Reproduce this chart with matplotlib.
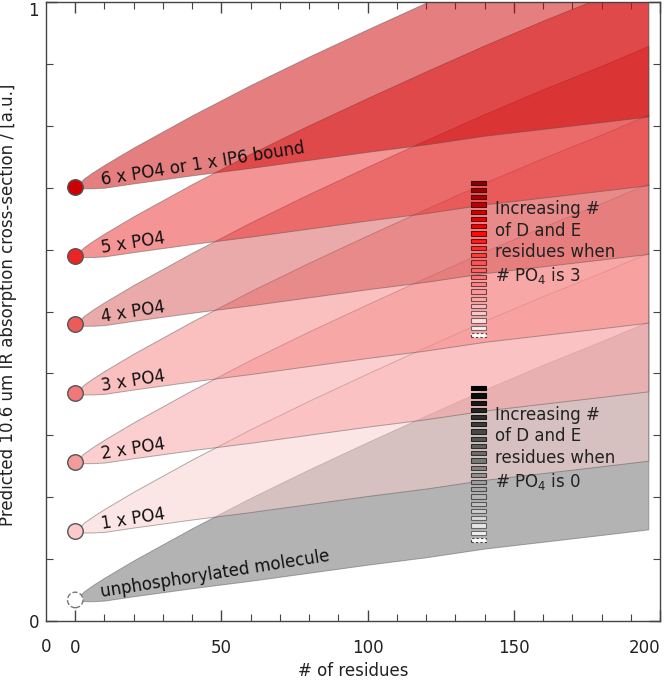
import numpy as np
import matplotlib.pyplot as plt
from matplotlib.colors import LinearSegmentedColormap, to_rgb

# rise of every band above its starting level
residues = [0, 3, 6, 10, 20, 40, 60, 80, 100, 120, 140, 160, 180, 196]
lower_rise = [0, -0.002, -0.002, -0.001, 0.006, 0.019, 0.031, 0.044,
              0.057, 0.069, 0.083, 0.094, 0.105, 0.114]
upper_rise = [0, 0.014, 0.024, 0.036, 0.064, 0.116, 0.165, 0.211,
              0.255, 0.298, 0.340, 0.380, 0.418, 0.450]

# one band per phosphorylation state
band_labels = ["unphosphorylated molecule", "1 x PO4", "2 x PO4", "3 x PO4",
               "4 x PO4", "5 x PO4", "6 x PO4 or 1 x IP6 bound"]
start_level = [0.034, 0.145, 0.257, 0.368, 0.479, 0.590, 0.701]
band_colors = ["#696969", "#fbcdcd", "#f9a1a1", "#f78181",
               "#d85656", "#eb2b2b", "#cc0000"]
marker_colors = ["#ffffff", "#fccaca", "#f39a9a", "#f07878",
                 "#ec5a5a", "#ee2424", "#cc0000"]

# "Increasing # of D and E" strips
n_de = 22
strip_x = 138
strip_top = [0.708, 0.376]
strip_bottom = [0.462, 0.131]
strip_text = ["Increasing #\nof D and E\nresidues when\n# PO$_4$ is 3",
              "Increasing #\nof D and E\nresidues when\n# PO$_4$ is 0"]
strip_cmaps = [
    LinearSegmentedColormap.from_list("reds", [(0, "#8c0000"), (0.3, "#ff0000"), (1, "#ffffff")]),
    LinearSegmentedColormap.from_list("greys", ["#000000", "#ffffff"]),
]

fig = plt.figure(figsize=(6.66, 6.83), dpi=100)
ax = fig.add_axes([46 / 666, 1 - 621 / 683, 614 / 666, 619 / 683])

x = np.array(residues)
lo = np.array(lower_rise)
hi = np.array(upper_rise)
for lvl, col in zip(start_level, band_colors):
    r, g, b = to_rgb(col)
    ax.fill_between(x, lvl + lo, lvl + hi, facecolor=(r, g, b, 0.5),
                    edgecolor=(0.3, 0.3, 0.3, 0.45), linewidth=0.7, zorder=2)

for i, (lvl, col, lab) in enumerate(zip(start_level, marker_colors, band_labels)):
    if i == 0:
        ax.scatter([0], [lvl], s=125, facecolors="white", edgecolors="#777777",
                   linewidths=1.0, linestyles="--", zorder=5, clip_on=False)
    else:
        ax.scatter([0], [lvl], s=125, facecolors=col, edgecolors="#555555",
                   linewidths=1.0, zorder=5, clip_on=False)
    ax.text(9, lvl + 0.004, lab, rotation=9, rotation_mode="anchor",
            ha="left", va="baseline", fontsize=12, color="#111111", zorder=6)

for k in range(2):
    ys = np.linspace(strip_top[k], strip_bottom[k], n_de)
    h = 0.0068
    faces = [strip_cmaps[k](i / (n_de - 1)) for i in range(n_de)]
    edges = [tuple(0.45 * c for c in fc[:3]) + (1,) for fc in faces]
    bars = ax.bar([strip_x] * n_de, [h] * n_de, bottom=ys - h / 2, width=5.0,
                  color=faces, edgecolor=edges, linewidth=0.8, zorder=4)
    bars[-1].set_facecolor("white")
    bars[-1].set_edgecolor("#444444")
    bars[-1].set_linestyle((0, (2, 2)))
    ax.text(143.5, strip_top[k] - 0.028, strip_text[k], ha="left", va="top",
            fontsize=12, linespacing=1.25, color="#222222", zorder=6)

ax.set_xlim(-10, 200)
ax.set_ylim(0, 1)
ax.set_xticks([0, 50, 100, 150, 200])
ax.set_xticks(np.arange(0, 201, 10), minor=True)
ax.set_yticks([0, 1])
ax.set_yticks(np.arange(0.1, 0.95, 0.1), minor=True)
ax.set_yticklabels(["0", "1"])
ax.tick_params(which="both", direction="in", top=True, right=True,
               color="#444444", labelsize=12, labelcolor="#222222")
ax.tick_params(which="major", length=8, width=1)
ax.tick_params(which="minor", length=5, width=0.8)
ax.tick_params(axis="x", pad=13)
ax.tick_params(axis="y", pad=5)
ax.get_xticklabels()[-1].set_ha("right")
ax.get_yticklabels()[-1].set_va("top")
for sp in ax.spines.values():
    sp.set_color("#444444")
    sp.set_linewidth(1.0)

ax.text(-10, -0.042, "0", ha="center", va="center", fontsize=12,
        color="#222222", clip_on=False)
ax.set_xlabel("# of residues", fontsize=12, color="#222222")
ax.xaxis.set_label_coords(0.5, -0.066)
ax.set_ylabel("Predicted 10.6 um IR absorption cross-section / [a.u.]",
              fontsize=12, color="#222222")
ax.yaxis.set_label_coords(-0.048, 0.51)

plt.savefig("out.png", dpi=100)
